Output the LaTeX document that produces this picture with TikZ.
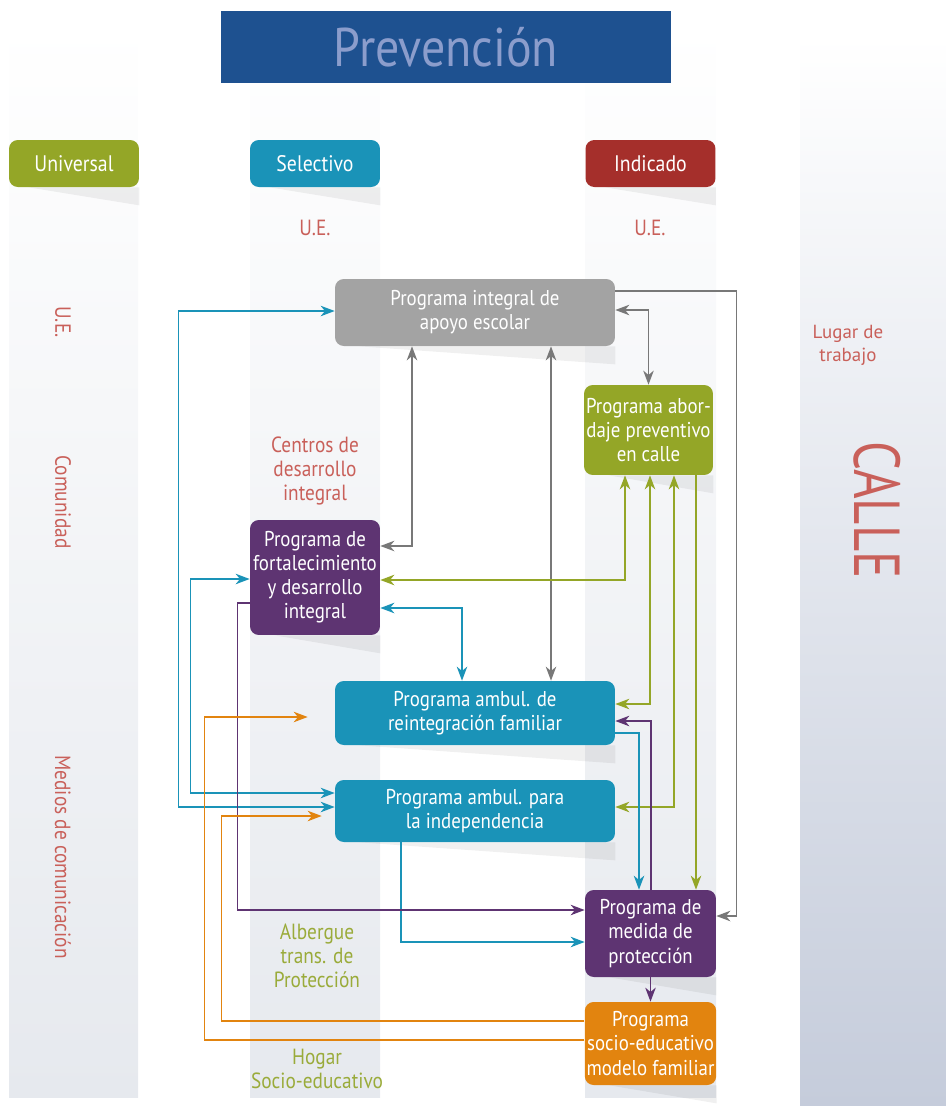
\documentclass[tikz,border=0pt]{standalone}
\usepackage{fontspec}
\setmainfont[FakeStretch=0.88]{PT Sans}
\newfontfamily\regfont{PT Sans}
\newfontfamily\condfont[FakeStretch=0.78]{PT Sans}
\usetikzlibrary{arrows.meta, positioning, calc}
\definecolor{mytitle}{HTML}{1E5190}
\definecolor{mytitletext}{HTML}{8B9DCC}
\definecolor{mygreen}{HTML}{94A627}
\definecolor{myteal}{HTML}{1A93B8}
\definecolor{myred}{HTML}{A52F2B}
\definecolor{mypurple}{HTML}{5E3472}
\definecolor{myorange}{HTML}{E2840F}
\definecolor{mygray}{HTML}{A3A3A3}
\definecolor{mylinegray}{HTML}{787878}
\definecolor{mylabelred}{HTML}{C9605A}
\definecolor{mylabelgreen}{HTML}{9AAB3A}
\definecolor{mycolumn}{HTML}{E6E9EE}
\definecolor{mycalle}{HTML}{C5CCDB}

\tikzset{
  >={Stealth[length=8pt,width=6pt,inset=2.5pt]},
  prog/.style={rounded corners=5pt, text=white, align=center, inner sep=1pt,
    font=\fontsize{12.2}{13.7}\selectfont},
  level/.style={prog, minimum width=2.6cm, minimum height=0.94cm,
    font=\fontsize{12.8}{14}\selectfont},
  redlabel/.style={text=mylabelred, align=center, font=\fontsize{12.5}{13.7}\selectfont},
  greenlabel/.style={text=mylabelgreen, align=center, font=\fontsize{12.5}{13.7}\selectfont},
  wedge/.style={fill=black, fill opacity=0.06},
  link/.style={line width=0.8pt},
}

\begin{document}
\begin{tikzpicture}[x=0.02cm, y=-0.02cm]
        \useasboundingbox (0,0) rectangle (946,1106);
        % background columns
        \shade[top color=white, bottom color=mycolumn] (9,22) rectangle (138,1097);
        \shade[top color=white, bottom color=mycolumn] (250,22) rectangle (380,1097);
        \shade[top color=white, bottom color=mycolumn] (585,22) rectangle (716,1097);
        \shade[top color=white, bottom color=mycalle] (800,35) rectangle (946,1106);
        % title
        \node[fill=mytitle, minimum width=9cm, minimum height=1.46cm, inner sep=0pt,
              text=mytitletext, font=\fontsize{31}{34}\selectfont] (title) at (446,47) {Prevención};
        % levels
        \node[level, fill=mygreen] (universal) at (74,163.5) {Universal};
        \node[level, fill=myteal] (selectivo) at (315,163.5) {Selectivo};
        \node[level, fill=myred] (indicado) at (650.5,163.5) {Indicado};
        \foreach \n in {universal, selectivo, indicado}
            \fill[wedge] ($(\n.south west)+(20,0)$) -- (\n.south east) -- ++(0,18) -- cycle;
        \node[redlabel] (ue-sel) at (315,228) {U.E.};
        \node[redlabel] (ue-ind) at (650,228) {U.E.};
        % side labels
        \node[redlabel, rotate=-90] (ue-left) at (63,322) {U.E.};
        \node[redlabel, rotate=-90] (comunidad) at (63,502) {Comunidad};
        \node[redlabel, rotate=-90] (medios) at (63,857) {Medios de comunicación};
        \node[text=mylabelred, align=center, font=\regfont\fontsize{10.8}{13}\selectfont] (lugar) at (848,345) {Lugar de\\trabajo};
        \node[text=mylabelred, rotate=-90, font=\condfont\fontsize{37}{40}\selectfont] (calle-label) at (877,510) {CALLE};
        \node[redlabel] (centros) at (315,471) {Centros de\\desarrollo\\integral};
        \node[greenlabel] (albergue) at (317,956) {Albergue\\trans. de\\Protección};
        \node[greenlabel] (hogar) at (317,1069) {Hogar\\Socio-educativo};
        % programs
        \node[prog, fill=mygray, minimum width=5.6cm, minimum height=1.34cm] (apoyo) at (475,312.5) {Programa integral de\\apoyo escolar};
        \node[prog, fill=mygreen, minimum width=2.58cm, minimum height=1.8cm] (calle) at (648.5,430) {Programa abor-\\daje preventivo\\en calle};
        \node[prog, fill=mypurple, minimum width=2.6cm, minimum height=2.3cm] (fort) at (315,577.5) {Programa de\\fortalecimiento\\y desarrollo\\integral};
        \node[prog, fill=myteal, minimum width=5.6cm, minimum height=1.28cm] (reint) at (475,713) {Programa ambul. de\\reintegración familiar};
        \node[prog, fill=myteal, minimum width=5.6cm, minimum height=1.24cm] (indep) at (475,811) {Programa ambul. para\\la independencia};
        \node[prog, fill=mypurple, minimum width=2.62cm, minimum height=1.74cm] (medida) at (650.5,933.5) {Programa de\\medida de\\protección};
        \node[prog, fill=myorange, minimum width=2.62cm, minimum height=1.66cm] (socio) at (650.5,1043.5) {Programa\\socio-educativo\\modelo familiar};
        \foreach \n in {apoyo, calle, fort, reint, indep, medida, socio}
            \fill[wedge] ($(\n.south west)+(25,0)$) -- (\n.south east) -- ++(0,18) -- cycle;
        % gray links
        \draw[link, mylinegray, ->] (apoyo.east |- 0,291) -- ++(121,0) |- (medida.east |- 0,916);
        \draw[link, mylinegray, <->] (apoyo.east |- 0,310) -| (calle.north);
        \draw[link, mylinegray, <->] (apoyo.south -| 412,0) |- (fort.east |- 0,546);
        \draw[link, mylinegray, <->] (apoyo.south -| 551,0) -- (reint.north -| 551,0);
        % green links
        \draw[link, mygreen, <->] (calle.south -| 625,0) |- (fort.east |- 0,580);
        \draw[link, mygreen, <->] (calle.south -| 650,0) |- (reint.east |- 0,704);
        \draw[link, mygreen, <->] (calle.south -| 674,0) |- (indep.east |- 0,807);
        \draw[link, mygreen, ->] (calle.south -| 696,0) -- (medida.north -| 696,0);
        % teal links
        \draw[link, myteal, <->] (fort.east |- 0,608) -| (reint.north -| 462,0);
        \draw[link, myteal, <->] (apoyo.west |- 0,311) -- ++(-156,0) |- (indep.west |- 0,807);
        \draw[link, myteal, <->] (fort.west |- 0,579) -- ++(-59,0) |- (indep.west |- 0,793);
        \draw[link, myteal, ->] (reint.east |- 0,733) -| (medida.north -| 639,0);
        \draw[link, myteal, ->] (indep.south -| 401,0) |- (medida.west |- 0,942);
        % purple links
        \draw[link, mypurple, ->] (fort.west |- 0,603) -- ++(-12,0) |- (medida.west |- 0,910);
        \draw[link, mypurple, ->] (medida.north -| 651,0) |- (reint.east |- 0,721);
        \draw[link, mypurple, ->] (medida.south) -- (socio.north);
        % orange links
        \draw[link, myorange, ->] (socio.west |- 0,1021) -- ++(-363,0) |- ($(indep.west |- 0,816)+(-13,0)$);
        \draw[link, myorange, ->] (socio.west |- 0,1040) -- ++(-380,0) |- ($(reint.west |- 0,717)+(-27,0)$);
    \end{tikzpicture}
\end{document}
